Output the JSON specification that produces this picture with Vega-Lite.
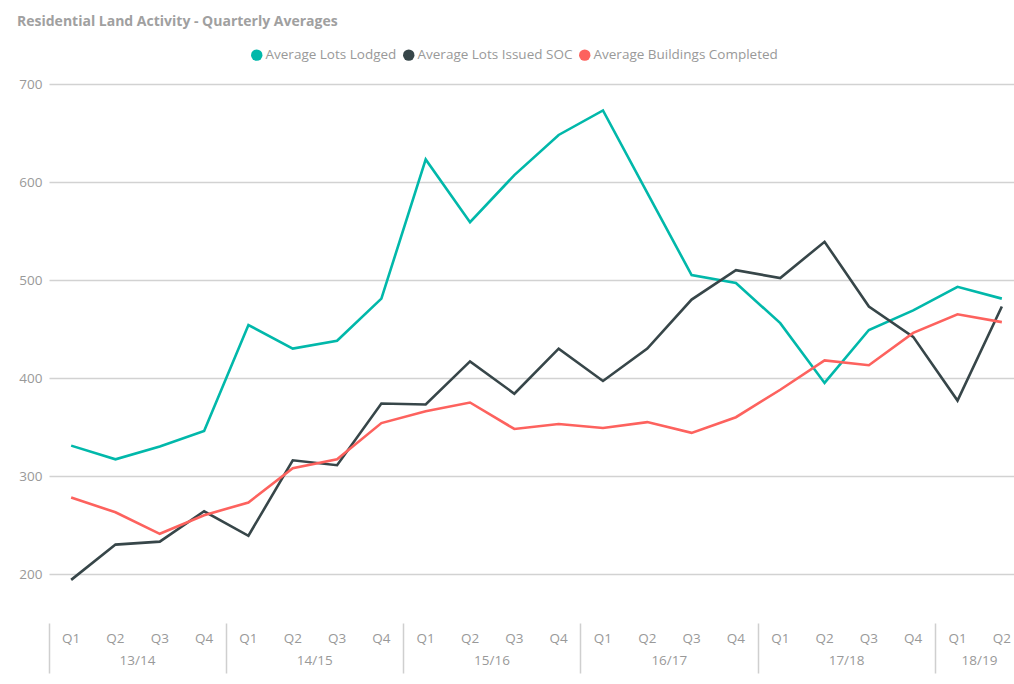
{
  "$schema": "https://vega.github.io/schema/vega-lite/v6.json",
  "width": 965,
  "height": 539,
  "autosize": {"type": "none"},
  "padding": {"left": 49, "top": 84, "right": 0, "bottom": 61},
  "background": "white",
  "config": {"font": "Open Sans", "view": {"stroke": null}},
  "title": {"text": "Residential Land Activity - Quarterly Averages", "anchor": "start", "frame": "group", "dx": -32, "offset": 19, "fontSize": 14, "fontWeight": "bold", "color": "#a0a0a0", "font": "Open Sans"},
  "data": {"values": [
    {"p": "13/14 Q1", "s": "Average Lots Lodged", "v": 331},
    {"p": "13/14 Q2", "s": "Average Lots Lodged", "v": 317},
    {"p": "13/14 Q3", "s": "Average Lots Lodged", "v": 330},
    {"p": "13/14 Q4", "s": "Average Lots Lodged", "v": 346},
    {"p": "14/15 Q1", "s": "Average Lots Lodged", "v": 454},
    {"p": "14/15 Q2", "s": "Average Lots Lodged", "v": 430},
    {"p": "14/15 Q3", "s": "Average Lots Lodged", "v": 438},
    {"p": "14/15 Q4", "s": "Average Lots Lodged", "v": 481},
    {"p": "15/16 Q1", "s": "Average Lots Lodged", "v": 623},
    {"p": "15/16 Q2", "s": "Average Lots Lodged", "v": 559},
    {"p": "15/16 Q3", "s": "Average Lots Lodged", "v": 607},
    {"p": "15/16 Q4", "s": "Average Lots Lodged", "v": 648},
    {"p": "16/17 Q1", "s": "Average Lots Lodged", "v": 673},
    {"p": "16/17 Q2", "s": "Average Lots Lodged", "v": 589},
    {"p": "16/17 Q3", "s": "Average Lots Lodged", "v": 505},
    {"p": "16/17 Q4", "s": "Average Lots Lodged", "v": 497},
    {"p": "17/18 Q1", "s": "Average Lots Lodged", "v": 456},
    {"p": "17/18 Q2", "s": "Average Lots Lodged", "v": 395},
    {"p": "17/18 Q3", "s": "Average Lots Lodged", "v": 449},
    {"p": "17/18 Q4", "s": "Average Lots Lodged", "v": 469},
    {"p": "18/19 Q1", "s": "Average Lots Lodged", "v": 493},
    {"p": "18/19 Q2", "s": "Average Lots Lodged", "v": 481},
    {"p": "13/14 Q1", "s": "Average Lots Issued SOC", "v": 194},
    {"p": "13/14 Q2", "s": "Average Lots Issued SOC", "v": 230},
    {"p": "13/14 Q3", "s": "Average Lots Issued SOC", "v": 233},
    {"p": "13/14 Q4", "s": "Average Lots Issued SOC", "v": 264},
    {"p": "14/15 Q1", "s": "Average Lots Issued SOC", "v": 239},
    {"p": "14/15 Q2", "s": "Average Lots Issued SOC", "v": 316},
    {"p": "14/15 Q3", "s": "Average Lots Issued SOC", "v": 311},
    {"p": "14/15 Q4", "s": "Average Lots Issued SOC", "v": 374},
    {"p": "15/16 Q1", "s": "Average Lots Issued SOC", "v": 373},
    {"p": "15/16 Q2", "s": "Average Lots Issued SOC", "v": 417},
    {"p": "15/16 Q3", "s": "Average Lots Issued SOC", "v": 384},
    {"p": "15/16 Q4", "s": "Average Lots Issued SOC", "v": 430},
    {"p": "16/17 Q1", "s": "Average Lots Issued SOC", "v": 397},
    {"p": "16/17 Q2", "s": "Average Lots Issued SOC", "v": 430},
    {"p": "16/17 Q3", "s": "Average Lots Issued SOC", "v": 480},
    {"p": "16/17 Q4", "s": "Average Lots Issued SOC", "v": 510},
    {"p": "17/18 Q1", "s": "Average Lots Issued SOC", "v": 502},
    {"p": "17/18 Q2", "s": "Average Lots Issued SOC", "v": 539},
    {"p": "17/18 Q3", "s": "Average Lots Issued SOC", "v": 473},
    {"p": "17/18 Q4", "s": "Average Lots Issued SOC", "v": 442},
    {"p": "18/19 Q1", "s": "Average Lots Issued SOC", "v": 377},
    {"p": "18/19 Q2", "s": "Average Lots Issued SOC", "v": 473},
    {"p": "13/14 Q1", "s": "Average Buildings Completed", "v": 278},
    {"p": "13/14 Q2", "s": "Average Buildings Completed", "v": 263},
    {"p": "13/14 Q3", "s": "Average Buildings Completed", "v": 241},
    {"p": "13/14 Q4", "s": "Average Buildings Completed", "v": 260},
    {"p": "14/15 Q1", "s": "Average Buildings Completed", "v": 273},
    {"p": "14/15 Q2", "s": "Average Buildings Completed", "v": 308},
    {"p": "14/15 Q3", "s": "Average Buildings Completed", "v": 317},
    {"p": "14/15 Q4", "s": "Average Buildings Completed", "v": 354},
    {"p": "15/16 Q1", "s": "Average Buildings Completed", "v": 366},
    {"p": "15/16 Q2", "s": "Average Buildings Completed", "v": 375},
    {"p": "15/16 Q3", "s": "Average Buildings Completed", "v": 348},
    {"p": "15/16 Q4", "s": "Average Buildings Completed", "v": 353},
    {"p": "16/17 Q1", "s": "Average Buildings Completed", "v": 349},
    {"p": "16/17 Q2", "s": "Average Buildings Completed", "v": 355},
    {"p": "16/17 Q3", "s": "Average Buildings Completed", "v": 344},
    {"p": "16/17 Q4", "s": "Average Buildings Completed", "v": 360},
    {"p": "17/18 Q1", "s": "Average Buildings Completed", "v": 388},
    {"p": "17/18 Q2", "s": "Average Buildings Completed", "v": 418},
    {"p": "17/18 Q3", "s": "Average Buildings Completed", "v": 413},
    {"p": "17/18 Q4", "s": "Average Buildings Completed", "v": 446},
    {"p": "18/19 Q1", "s": "Average Buildings Completed", "v": 465},
    {"p": "18/19 Q2", "s": "Average Buildings Completed", "v": 457}
  ]},
  "layer": [
    {
      "mark": {"type": "line", "strokeWidth": 2.6, "clip": false},
      "encoding": {
        "x": {"field": "p", "type": "nominal", "sort": null, "bandPosition": 0.5,
          "scale": {"type": "band", "paddingInner": 0, "paddingOuter": 0, "range": [0, 975]},
          "axis": {"orient": "bottom", "title": null, "domain": false, "ticks": false, "grid": false, "labelExpr": "split(datum.label, ' ')[1]", "labelPadding": 8, "labelFontSize": 13.5, "labelColor": "#999999", "labelAngle": 0, "labelOverlap": false, "labelFlush": false}},
        "y": {"field": "v", "type": "quantitative",
          "scale": {"domain": [150, 700], "nice": false, "zero": false},
          "axis": {"title": null, "values": [200, 300, 400, 500, 600, 700], "domain": false, "ticks": false, "labelPadding": 7, "labelFontSize": 13.5, "labelColor": "#999999", "gridColor": "#d2d2d2", "gridWidth": 1.5}},
        "color": {"field": "s", "type": "nominal",
          "scale": {"domain": ["Average Lots Lodged", "Average Lots Issued SOC", "Average Buildings Completed"], "range": ["#01B8AA", "#374649", "#FD625E"]},
          "legend": {"title": null, "orient": "none", "legendX": 201, "legendY": -36, "direction": "horizontal", "symbolType": "circle", "symbolSize": 130, "symbolStrokeWidth": 0, "labelFontSize": 13.5, "labelColor": "#999999", "labelLimit": 400, "columnPadding": 5, "labelOffset": 2,
            "encode": {"symbols": {"update": {"fill": {"scale": "color", "field": "value"}, "opacity": {"value": 1}}}}}}
      }
    },
    {
      "mark": {"type": "point", "opacity": 0},
      "encoding": {
        "x": {"field": "p", "type": "nominal", "sort": null,
          "axis": {"orient": "bottom", "title": null, "domain": false, "labels": false, "grid": false, "ticks": true, "tickSize": 50, "tickColor": "#cfcfcf", "tickWidth": 1.5, "bandPosition": 0,
            "values": ["13/14 Q1", "14/15 Q1", "15/16 Q1", "16/17 Q1", "17/18 Q1", "18/19 Q1"]}}
      }
    },
    {
      "mark": {"type": "point", "opacity": 0},
      "encoding": {
        "x": {"field": "p", "type": "nominal", "sort": null,
          "axis": {"orient": "bottom", "title": null, "domain": false, "ticks": false, "grid": false,
            "values": ["13/14 Q2", "14/15 Q2", "15/16 Q2", "16/17 Q2", "17/18 Q2", "18/19 Q1"],
            "labelOffset": 22,
            "labelExpr": "split(datum.label, ' ')[0]", "labelPadding": 30, "labelFontSize": 13.5, "labelColor": "#999999", "labelAngle": 0, "labelOverlap": false, "labelFlush": false}}
      }
    }
  ],
  "resolve": {"axis": {"x": "independent"}}
}
